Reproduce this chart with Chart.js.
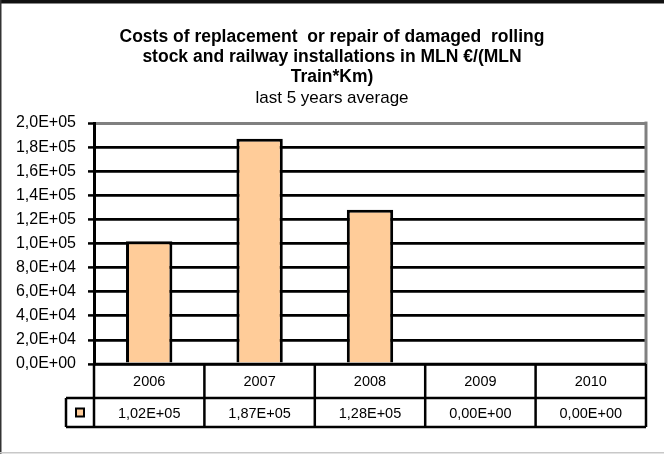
<!DOCTYPE html>
<html>
<head>
<meta charset="utf-8">
<script src="https://cdn.jsdelivr.net/npm/chart.js@4/dist/chart.umd.min.js"></script>
<style>
  html, body { margin: 0; padding: 0; background: #fff; }
  #wrap { width: 664px; height: 454px; position: relative; }
</style>
</head>
<body>
<div id="wrap"><canvas id="c" width="664" height="454"></canvas></div>
<script>
const years = ['2006', '2007', '2008', '2009', '2010'];
const costs = [102000, 187000, 128000, 0, 0];
const yMin = 0;
const yMax = 200000;
const yStep = 20000;
const titleLines = [
  'Costs of replacement  or repair of damaged  rolling',
  'stock and railway installations in MLN €/(MLN',
  'Train*Km)'
];
const subtitleText = 'last 5 years average';

const FONT = "'Liberation Sans', Arial, sans-serif";
const BAR_FILL = '#FFCC99';

function sci(v, digits) {
  if (v === 0) return (0).toFixed(digits).replace('.', ',') + 'E+00';
  let e = Math.floor(Math.log10(Math.abs(v)) + 1e-12);
  let ms = (v / Math.pow(10, e)).toFixed(digits);
  if (parseFloat(ms) >= 10) { e += 1; ms = (v / Math.pow(10, e)).toFixed(digits); }
  const sign = e < 0 ? '-' : '+';
  const ae = Math.abs(e);
  return ms.replace('.', ',') + 'E' + sign + (ae < 10 ? '0' : '') + ae;
}

const framePlugin = {
  id: 'frame',
  beforeDraw(chart) {
    const c = chart.ctx;
    c.save();
    c.fillStyle = '#fff';
    c.fillRect(0, 0, chart.width, chart.height);
    c.restore();
  },
  afterDraw(chart) {
    const c = chart.ctx;
    const a = chart.chartArea;
    const xs = chart.scales.x;
    const n = years.length;
    const half = (xs.getPixelForValue(1) - xs.getPixelForValue(0)) / 2;
    const left = xs.getPixelForValue(0) - half;
    const right = xs.getPixelForValue(n - 1) + half;
    const top = a.bottom;
    const headBottom = top + 34;
    const tableBottom = top + 63;
    const keyLeft = left - 28;

    c.save();
    // outer frame
    c.fillStyle = '#111';
    c.fillRect(0, 0, chart.width, 3);
    c.fillStyle = '#888';
    c.fillRect(0, 3, chart.width, 1);
    c.fillStyle = '#333';
    c.fillRect(0, 0, 1.5, chart.height);
    c.fillStyle = '#c8c8c8';
    c.fillRect(0, chart.height - 2, chart.width, 1.5);

    // plot right border (gray)
    c.strokeStyle = '#808080';
    c.lineWidth = 3;
    c.beginPath();
    c.moveTo(a.right, a.top - 1.5);
    c.lineTo(a.right, a.bottom);
    c.stroke();

    // data table
    c.strokeStyle = '#000';
    c.lineWidth = 2.5;
    c.beginPath();
    c.moveTo(left, top); c.lineTo(right, top);
    c.moveTo(keyLeft, headBottom); c.lineTo(right, headBottom);
    c.moveTo(keyLeft, tableBottom); c.lineTo(right, tableBottom);
    c.moveTo(keyLeft, headBottom); c.lineTo(keyLeft, tableBottom);
    for (let i = 0; i <= n; i++) {
      const x = left + i * 2 * half;
      c.moveTo(x, top); c.lineTo(x, tableBottom);
    }
    c.stroke();

    c.fillStyle = '#000';
    c.font = '14.5px ' + FONT;
    c.textAlign = 'center';
    c.textBaseline = 'middle';
    for (let i = 0; i < n; i++) {
      const x = xs.getPixelForValue(i);
      c.fillText(years[i], x, (top + headBottom) / 2 + 1);
      c.fillText(sci(costs[i], 2), x, (headBottom + tableBottom) / 2 + 1);
    }

    // legend key
    const kx = (keyLeft + left) / 2, ky = (headBottom + tableBottom) / 2;
    c.fillStyle = BAR_FILL;
    c.fillRect(kx - 4, ky - 4, 8, 8);
    c.strokeStyle = '#000';
    c.lineWidth = 2;
    c.strokeRect(kx - 4, ky - 4, 8, 8);
    c.restore();
  }
};

new Chart(document.getElementById('c'), {
  type: 'bar',
  data: {
    labels: years,
    datasets: [{
      label: 'Costs',
      data: costs,
      backgroundColor: BAR_FILL,
      borderColor: '#000',
      borderWidth: 3,
      barPercentage: 0.42,
      categoryPercentage: 1.0
    }]
  },
  options: {
    responsive: false,
    animation: false,
    events: [],
    layout: { padding: { left: 0, right: 0, top: 0, bottom: 90 } },
    plugins: {
      legend: { display: false },
      tooltip: { enabled: false },
      title: {
        display: true,
        text: titleLines,
        color: '#000',
        font: { family: FONT, size: 17.5, weight: 'bold', lineHeight: 1.15 },
        padding: { top: 27, bottom: 0 }
      },
      subtitle: {
        display: true,
        text: subtitleText,
        color: '#000',
        font: { family: FONT, size: 17, weight: 'normal', lineHeight: 1.1 },
        padding: { top: 2, bottom: 15 }
      }
    },
    scales: {
      x: {
        display: false,
        grid: { display: false }
      },
      y: {
        min: yMin,
        max: yMax,
        afterFit(scale) { scale.width = 94; },
        border: { display: true, color: '#000', width: 3 },
        grid: {
          color: (ctx) => (ctx.tick && ctx.tick.value === yMax) ? '#808080' : '#000',
          lineWidth: (ctx) => (ctx.tick && ctx.tick.value === yMax) ? 3 : 2.8,
          tickColor: '#000',
          tickLength: 6,
          tickWidth: 2.5
        },
        ticks: {
          stepSize: yStep,
          padding: 12,
          color: '#000',
          font: { family: FONT, size: 16 },
          callback: (v) => sci(v, 1)
        }
      },
      spacer: {
        type: 'linear',
        position: 'right',
        display: true,
        afterFit(scale) { scale.width = 18; },
        grid: { display: false, drawTicks: false },
        border: { display: false },
        ticks: { display: false }
      }
    }
  },
  plugins: [framePlugin]
});
</script>
</body>
</html>
